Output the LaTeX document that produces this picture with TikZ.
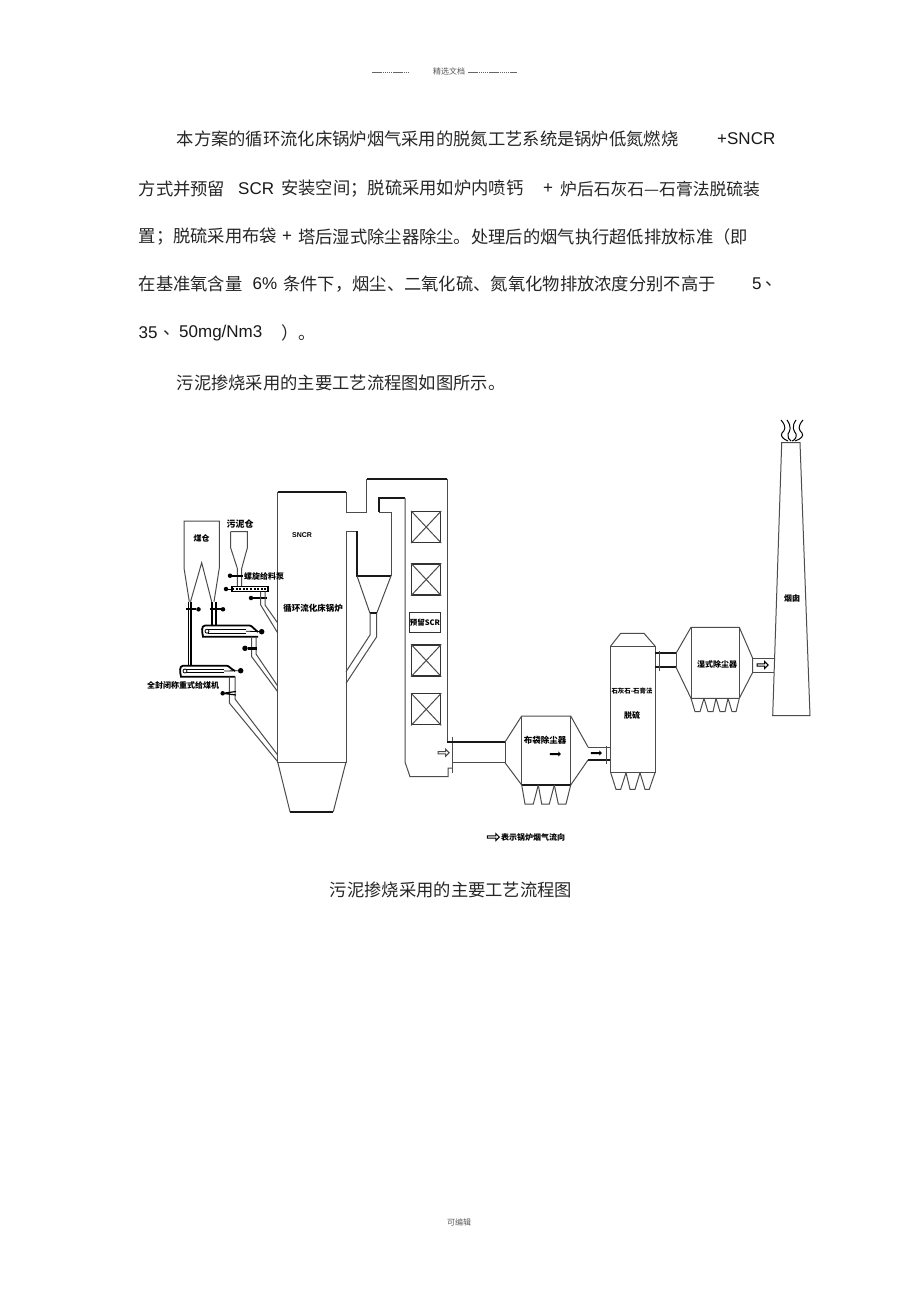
\documentclass[tikz,border=0pt]{standalone}
\usepackage{fontspec}
\setmainfont{Noto Sans CJK SC}[Scale=1]
\newfontfamily\latinfont{Liberation Sans}
\usetikzlibrary{shapes.arrows}
\tikzset{
  para/.style={anchor=west,inner sep=0pt,font=\fontsize{17.3}{20}\selectfont,text=black!85},
  latin/.style={anchor=west,inner sep=0pt,font=\fontsize{17}{20}\selectfont\latinfont,text=black!90},
  tag/.style={inner sep=0pt,font=\fontsize{8}{9}\selectfont\bfseries},
  wall/.style={line width=1pt,black!70},
  heavy/.style={line width=1.7pt,black!90},
  crossbox/.style={draw,line width=1.2pt,black!80,minimum width=29pt,minimum height=31pt,inner sep=0pt},
  flowarrow/.style={single arrow,draw,line width=1pt,inner sep=0pt,minimum width=7pt,minimum height=11pt,single arrow head extend=1pt},
  knob/.style={circle,fill=black,inner sep=0pt,minimum size=4.5pt},
}
\begin{document}
\begin{tikzpicture}[x=1pt,y=-1pt]
 \useasboundingbox [fill=white] (0,0) rectangle (920,1303);
 % header and footer
 \coordinate (headl1) at (372,72);
 \coordinate (headl2) at (409,72);
 \node (headt) [inner sep=0pt,text=black!65,font=\fontsize{8}{9}\selectfont] at (449,71) {精选文档};
 \coordinate (headr1) at (468,72);
 \coordinate (headr2) at (517,72);
 \draw [line width=0.7pt,black!60,dash pattern=on 1.5pt off 0.6pt] (headl1) -- (headl2);
 \draw [line width=0.7pt,black!60,dash pattern=on 1.5pt off 0.6pt] (headr1) -- (headr2);
 \node (foot) [inner sep=0pt,text=black!65,font=\fontsize{8}{9}\selectfont] at (459,1222) {可编辑};
 % text above the picture
 \node (l1a) [para] at (176.5,139) {本方案的循环流化床锅炉烟气采用的脱氮工艺系统是锅炉低氮燃烧};
 \node (l1b) [latin] at (717,139) {+SNCR};
 \node (l2a) [para] at (138.5,189) {方式并预留};
 \node (l2b) [latin] at (238,189) {SCR};
 \node (l2c) [para] at (281,189) {安装空间；脱硫采用如炉内喷钙};
 \node (l2d) [latin] at (543,189) {+};
 \node (l2e) [para,font=\fontsize{16.8}{20}\selectfont] at (560,189) {炉后石灰石—石膏法脱硫装};
 \node (l3a) [para] at (138.5,237) {置；脱硫采用布袋};
 \node (l3b) [latin] at (282,237) {+};
 \node (l3c) [para] at (298,237) {塔后湿式除尘器除尘。处理后的烟气执行超低排放标准（即};
 \node (l4a) [para] at (138.5,284) {在基准氧含量};
 \node (l4b) [latin] at (252.5,284) {6\%};
 \node (l4c) [para] at (283,284) {条件下，烟尘、二氧化硫、氮氧化物排放浓度分别不高于};
 \node (l4d) [latin] at (752,284) {5};
 \node (l4e) [para] at (765,284) {、};
 \node (l5a) [latin] at (138.5,333) {35};
 \node (l5b) [para] at (163,333) {、};
 \node (l5c) [latin] at (179,333) {50mg/Nm3};
 \node (l5d) [para] at (281,333) {）。};
 \node (l6a) [para] at (176.5,383) {污泥掺烧采用的主要工艺流程图如图所示。};
 % boiler and first duct
 \draw [wall] (277.7,491.7) -- (277.7,762) -- (346,762) -- (346,531);
 \draw [heavy] (277.7,491.7) -- (346,491.7);
 \draw [wall] (346,491.7) -- (346,512) -- (366.7,512) -- (366.7,479.3);
 \draw [heavy] (366.7,479.3) -- (447.3,479.3);
 \draw [wall] (447.3,479.3) -- (447.3,742);
 \draw [wall] (277.7,762) -- (290,811.7) (346,762) -- (333.3,811.7);
 \draw [heavy] (290,811.7) -- (333.3,811.7);
 % cyclone
 \draw [wall] (346,531) -- (357,531);
 \draw [heavy] (357,531) -- (357,576) -- (391,576);
 \draw [wall] (391,576) -- (391,512) -- (378.7,512);
 \draw [heavy] (378.7,512) -- (378.7,498) -- (405,498);
 \draw [wall] (357,576) -- (370,613.3) (391,576) -- (376.7,613.3);
 \draw [heavy] (370,613.3) -- (376.7,613.3);
 \draw [wall] (370,613.3) -- (370,635) -- (346,671.7);
 \draw [wall] (376.7,613.3) -- (376.7,636.7) -- (346,683.3);
 % shaft
 \draw [wall] (405,498) -- (405,762) -- (410,776.7) -- (448,776.7) -- (448,768) -- (452.7,768);
 \node (sh1) [crossbox] at (426.2,527) {};
 \draw [wall] (sh1.north west) -- (sh1.south east);
 \draw [wall] (sh1.north east) -- (sh1.south west);
 \node (sh2) [crossbox] at (426.2,579.5) {};
 \draw [wall] (sh2.north west) -- (sh2.south east);
 \draw [wall] (sh2.north east) -- (sh2.south west);
 \node (scr) [draw,line width=1pt,black!80,text=black,minimum width=30pt,minimum height=20pt,inner sep=0pt,font=\fontsize{7.5}{9}\selectfont\bfseries] at (425,622.7) {预留SCR};
 \node (sh3) [crossbox] at (426.2,660.5) {};
 \draw [wall] (sh3.north west) -- (sh3.south east);
 \draw [wall] (sh3.north east) -- (sh3.south west);
 \node (sh4) [crossbox] at (426.2,709.3) {};
 \draw [wall] (sh4.north west) -- (sh4.south east);
 \draw [wall] (sh4.north east) -- (sh4.south west);
 \node (arrow1) [flowarrow,black!70] at (443,752.7) {};
 % duct to bag filter
 \draw [wall] (452.7,736.7) -- (452.7,773);
 \draw [heavy] (447.3,742) -- (505,742);
 \draw [wall] (452.7,762.7) -- (505,762.7);
 % bag filter
 \draw [wall] (505,742) -- (505,762.7);
 \draw [wall] (505,742) -- (521.7,716) -- (570.7,716) -- (588,747);
 \draw [wall] (505,762.7) -- (521.7,785) (570.7,785) -- (588,760);
 \draw [wall] (521.7,716) -- (521.7,785) (570.7,716) -- (570.7,785);
 \draw [heavy] (521.7,785) -- (570.7,785);
 \draw [wall] (521.7,785) -- (525,804) -- (533.3,804) -- (538.3,785);
 \draw [wall] (538.3,785) -- (541.7,804) -- (549.3,804) -- (554.3,785);
 \draw [wall] (554.3,785) -- (558.3,804) -- (566,804) -- (570.7,785);
 \node (bag) [tag,font=\fontsize{8.5}{9}\selectfont\bfseries] at (545,740.7) {布袋除尘器};
 \node (arrow2) [flowarrow,fill=black,minimum width=3pt,minimum height=10pt] at (555,754) {};
 % duct to absorber
 \draw [wall] (588,747) -- (610.7,747);
 \draw [heavy] (588,760) -- (610.7,760);
 \draw [wall] (606.7,746) -- (606.7,764);
 \node (arrow3) [flowarrow,fill=black,minimum width=3pt,minimum height=10pt] at (596,753) {};
 % absorber
 \draw [wall] (610.7,646) rectangle (655,772.7);
 \draw [wall] (610.7,646) -- (620.7,633.3) -- (644,633.3) -- (655,646);
 \draw [wall] (610.7,772.7) -- (616,789.3) -- (620.7,789.3) -- (626,772.7);
 \draw [wall] (626,772.7) -- (630,789.3) -- (635,789.3) -- (640,772.7);
 \draw [wall] (640,772.7) -- (645,789.3) -- (649.3,789.3) -- (655,772.7);
 \node (abs1) [tag,font=\fontsize{6.4}{8}\selectfont\bfseries] at (632,691) {石灰石-石膏法};
 \node (abs2) [tag] at (632,715) {脱硫};
 % duct to wet filter
 \draw [heavy] (655,653.3) -- (676,653.3) (655,667.3) -- (676,667.3);
 \draw [wall] (659,651) -- (659,670.7);
 % wet filter
 \draw [wall] (676,653.3) -- (676,667.3);
 \draw [wall] (676,653.3) -- (691,627.3) -- (739.3,627.3) -- (752.7,658.3) -- (752.7,672.3) -- (739.3,698.3);
 \draw [wall] (676,667.3) -- (691,698.3) -- (739.3,698.3);
 \draw [wall] (691,627.3) -- (691,698.3) (739.3,627.3) -- (739.3,698.3);
 \draw [wall] (691,698.3) -- (695,711.7) -- (700,711.7) -- (704,698.3);
 \draw [wall] (704,698.3) -- (708,711.7) -- (713,711.7) -- (716,698.3);
 \draw [wall] (716,698.3) -- (720,711.7) -- (725,711.7) -- (728,698.3);
 \draw [wall] (728,698.3) -- (732,711.7) -- (736,711.7) -- (739.3,698.3);
 \node (wet) [tag] at (717,664) {湿式除尘器};
 % duct to chimney
 \draw [wall] (752.7,658.3) -- (775,658.3) (752.7,672.3) -- (774,672.3);
 \node (arrow4) [flowarrow] at (762,665) {};
 % chimney and smoke
 \draw [wall] (781.7,442.7) -- (772.7,715.7) -- (810,715.7) -- (800,442.7) -- cycle;
 \node (stack) [tag] at (792,598) {烟囱};
 \draw [line width=1pt] (781,420) .. controls (787,427) and (785,430) .. (782,433) .. controls (780,436) and (783,439) .. (788,441);
 \draw [line width=1pt] (787,420) .. controls (792,427) and (790,431) .. (788,434) .. controls (787,437) and (789,440) .. (791,441);
 \draw [line width=1pt] (803,420) .. controls (797,427) and (799,430) .. (802,433) .. controls (804,436) and (801,439) .. (795,441);
 \draw [line width=1pt] (796,420) .. controls (791,427) and (794,431) .. (796,434) .. controls (797,437) and (795,440) .. (792,441);
 % coal bin
 \draw [wall] (189.3,601.7) -- (184,568) -- (184,521) -- (219.3,521) -- (219.3,568) -- (214,601.7);
 \draw [wall] (190.5,601.7) -- (201.7,562.7) -- (211.7,601.7);
 \node (coal) [tag] at (201.7,538) {煤仓};
 \draw [line width=1.3pt] (188.5,601.7) -- (188.5,665.7) (191,601.7) -- (191,665.7);
 \draw [line width=1.3pt] (212,601.7) -- (212,625.7) (216,601.7) -- (216,625.7);
 \node (knob1) [knob] at (198.5,609.3) {};
 \draw [line width=2.2pt] (186,609.3) -- (knob1);
 \node (knob2) [knob] at (223,609.3) {};
 \draw [line width=2.2pt] (210,609.3) -- (knob2);
 % sludge bin
 \node (sludge) [tag,font=\fontsize{9}{9}\selectfont\bfseries] at (240,524) {污泥仓};
 \draw [wall] (230.7,531.7) -- (247.3,531.7) -- (247.3,548) -- (241.7,568.3) -- (241.7,586.7);
 \draw [wall] (230.7,531.7) -- (230.7,548) -- (237.3,568.3) -- (237.3,586.7);
 \node (knob3) [knob] at (230,575.7) {};
 \draw [line width=2pt] (knob3) -- (243,575.7);
 \node (pump) [tag] at (264,576) {螺旋给料泵};
 \node (knob4) [knob] at (226,589) {};
 \draw [line width=0.8pt] (knob4) -- (232,589);
 \draw [line width=1.4pt] (232,586.7) rectangle (268,591.7);
 \draw [line width=2.2pt,dash pattern=on 2pt off 1.6pt] (232,589) -- (268,589);
 \node (knob5) [knob] at (251,598) {};
 \draw [line width=2.2pt] (knob5) -- (266.7,598);
 \draw [wall] (260.7,591.7) -- (260.7,605) -- (277.7,633);
 \draw [wall] (265,591.7) -- (265,605) -- (277.7,623);
 % upper feeder
 \draw [line width=1.8pt] (250,625.5) -- (205,625.5) .. controls (201,626) and (202,631) .. (203,636.7) -- (258,636.7);
 \draw [line width=1.8pt] (250,625.5) .. controls (252,626) and (254,629) .. (258,632);
 \draw [line width=1pt] (208,629.5) -- (246,629.5) (208,633) -- (246,633);
 \node (pulley1) [circle,draw,line width=0.8pt,inner sep=0pt,minimum size=4pt] at (207,631.2) {};
 \node (knob6) [knob,minimum size=5.5pt] at (261.7,631.7) {};
 \draw [line width=0.8pt] (246,631.2) -- (knob6);
 \draw [wall] (251.7,636.7) -- (251.7,656.7) -- (277.7,691.7);
 \draw [wall] (256,636.7) -- (256,654) -- (277.7,686);
 \node (knob7) [knob,minimum size=5.5pt] at (245,648.3) {};
 \draw [line width=2.4pt] (knob7) -- (257,648.3);
 % lower feeder
 \draw [line width=1.8pt] (227,665.7) -- (183,665.7) .. controls (179,666) and (180,672) .. (181,676.7) -- (235,676.7);
 \draw [line width=1.8pt] (227,665.7) .. controls (229,666) and (231,669) .. (235,671);
 \draw [line width=1pt] (186,669.2) -- (224,669.2) (186,672.8) -- (224,672.8);
 \node (pulley2) [circle,draw,line width=0.8pt,inner sep=0pt,minimum size=4pt] at (185,671) {};
 \node (knob8) [knob,minimum size=5.5pt] at (240.7,670.7) {};
 \draw [line width=0.8pt] (224,671) -- (knob8);
 \node (feeder) [tag] at (183,685.7) {全封闭称重式给煤机};
 \draw [wall] (229.3,676.7) -- (229.3,703) -- (277.7,761.7);
 \draw [wall] (235,676.7) -- (235,699) -- (277.7,755);
 \node (knob9) [knob] at (222.7,693.3) {};
 \draw [line width=1.2pt] (knob9) -- (236,691.5) (knob9) -- (236,695);
 % furnace labels
 \node (sncr) [tag,font=\fontsize{7}{8}\selectfont\latinfont\bfseries] at (302,535) {SNCR};
 \node (cfb) [tag,font=\fontsize{8.5}{9}\selectfont\bfseries] at (313,608) {循环流化床锅炉};
 % legend and caption
 \node (arrow5) [flowarrow,minimum height=12pt] at (492.7,837) {};
 \node (legend) [tag,anchor=west] at (501,837) {表示锅炉烟气流向};
 \node (caption) [para,anchor=center] at (451,890) {污泥掺烧采用的主要工艺流程图};
\end{tikzpicture}
\end{document}
